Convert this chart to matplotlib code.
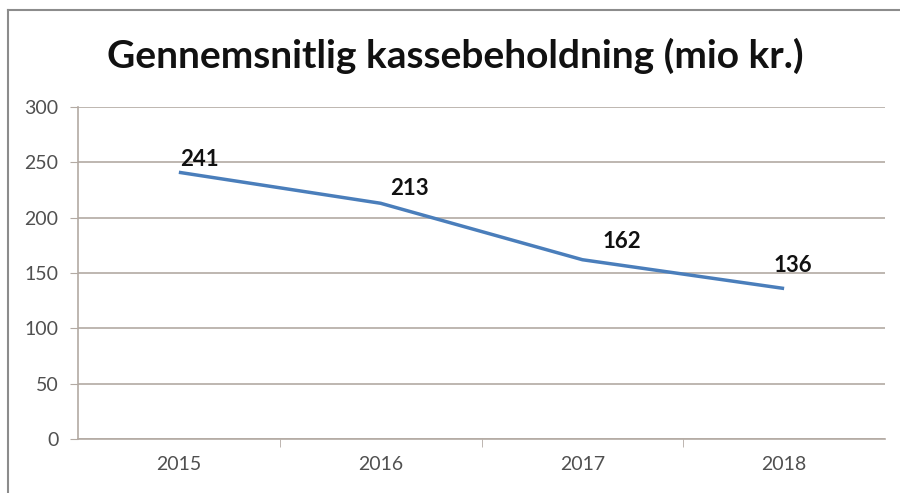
import matplotlib
matplotlib.use("Agg")
import matplotlib.pyplot as plt
from matplotlib.lines import Line2D

years = ["2015", "2016", "2017", "2018"]
values = [241, 213, 162, 136]
yticks = [0, 50, 100, 150, 200, 250, 300]
title = "Gennemsnitlig kassebeholdning (mio kr.)"

label_offsets = [(21, 2), (29, 4), (39, 8), (9, 12)]  # style: pixel offsets

fig = plt.figure(figsize=(9, 4.93), dpi=100)
fig.patch.set_facecolor("white")

# chart frame (top and left edges)
fy = 1 - 10 / 493
fx = 8 / 900
fig.add_artist(Line2D([fx, 1.0], [fy, fy], transform=fig.transFigure,
                      color="#8c8c8c", linewidth=1.5))
fig.add_artist(Line2D([fx, fx], [0, fy], transform=fig.transFigure,
                      color="#8c8c8c", linewidth=1.5))

ax = fig.add_axes([78 / 900, 1 - 439 / 493, (885 - 78) / 900, (439 - 107) / 493])
grid_c = "#b3aaa3"
x = list(range(len(years)))
ax.plot(x, values, color="#4a7ebb", linewidth=2.5, solid_capstyle="butt", zorder=3)
for xi, v, off in zip(x, values, label_offsets):
    ax.annotate(str(v), (xi, v), xytext=off, textcoords="offset pixels",
                ha="center", va="bottom", fontsize=16, fontweight="bold",
                family="Lato", color="#111111")

ax.set_xlim(-0.5, len(years) - 0.5)
ax.set_ylim(0, 300)
ax.set_yticks(yticks)
ax.set_yticklabels([str(t) for t in yticks], family="Lato", fontsize=14, color="#505050")
ax.set_xticks(x)
ax.set_xticklabels(years, family="Lato", fontsize=14, color="#505050")
ax.set_xticks([i + 0.5 for i in x[:-1]], minor=True)
ax.tick_params(axis="x", which="major", length=0, pad=12)
ax.tick_params(axis="x", which="minor", length=6, color=grid_c, direction="out")
ax.tick_params(axis="y", length=6, color=grid_c, pad=8)
ax.grid(axis="y", color=grid_c, linewidth=1.2)
ax.set_axisbelow(True)
for s in ["top", "right"]:
    ax.spines[s].set_visible(False)
for s in ["left", "bottom"]:
    ax.spines[s].set_color(grid_c)
    ax.spines[s].set_linewidth(1.2)

fig.text(455 / 900, 1 - 56 / 493, title, ha="center", va="center",
         fontsize=28, fontweight="bold", family="Lato", color="#111111")

fig.savefig("out.png", dpi=100)
